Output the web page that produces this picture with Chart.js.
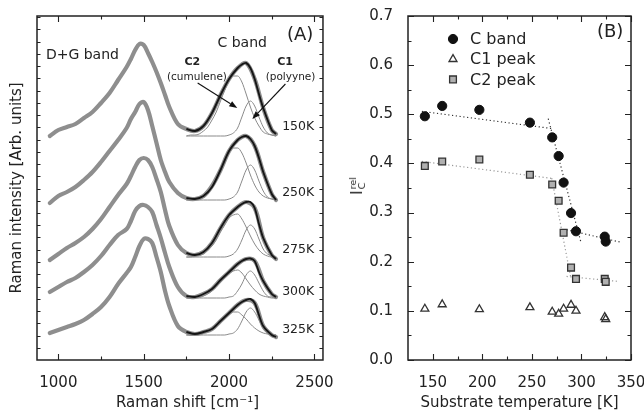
<!DOCTYPE html>
<html><head><meta charset="utf-8">
<script src="https://cdn.jsdelivr.net/npm/chart.js@4.4.1/dist/chart.umd.min.js"></script>
<style>
html,body{margin:0;padding:0;background:#fff;overflow:hidden;width:644px;height:415px;}
#wrap{position:relative;width:644px;height:415px;overflow:hidden;background:#fff;}
#ca{position:absolute;left:0;top:0;}
#cb{position:absolute;left:330px;top:0;}
#ybt{position:absolute;left:357px;top:186px;width:0;height:0;}
#ybt .in{position:absolute;left:0;top:0;transform:translate(-50%,-50%) rotate(-90deg);font-family:'DejaVu Sans';color:#222;white-space:nowrap;display:flex;align-items:center;}
#ybt .I{font-size:15px;line-height:15px;}
#ybt .col{display:inline-flex;flex-direction:column;font-size:9.5px;line-height:9px;margin-left:1px;}
</style></head>
<body><div id="wrap">
<canvas id="ca" width="340" height="415"></canvas>
<canvas id="cb" width="330" height="415"></canvas>
<div id="ybt"><div class="in"><span class="I">I</span><span class="col"><span>rel</span><span>C</span></span></div></div>
</div>
<script>
// ================= Panel A : Raman spectra =================
const ramanShift = [950,1000,1050,1100,1150,1200,1250,1300,1350,1400,1425,1450,1475,1500,1525,1550,1575,1600,1625,1650,1700,1750,1800,1850,1900,1950,2000,2050,2100,2150,2200,2250,2275];
const spec150K = [224,230,233,236,242,248,257,267,280,293,301,310,316,315,307,298,288,277,265,253,236,231,229,234,247,265,281,292,297,281,252,230,226];
const spec250K = [157,164,168,173,180,188,198,209,220,232,241,248,256,258,250,234,217,200,188,178,167,162,161,164,174,190,209,220,224,214,188,166,160];
const spec275K = [100,106,112,117,123,131,141,153,165,176,184,193,200,202,200,193,181,168,150,134,115,107,105,108,117,132,145,153,158,152,122,105,101];
const spec300K = [68,73,78,82,88,95,104,115,125,131,139,149,154,155,153,148,135,122,107,93,73,64,63,66,71,80,88,96,101,99,79,66,63];
const spec325K = [27,30,33,36,40,46,53,63,76,87,93,103,114,121,121,117,103,88,69,54,34,28,26,28,31,39,47,55,60,57,34,25,23];

const fitShift = [1750,1800,1850,1900,1950,2000,2050,2075,2100,2125,2150,2175,2200,2250,2275];
const fit150K = [231,229,234,247,265,281,292,295.5,297,292,281,266,252,230,226];
const fit250K = [162,161,164,173,190,209,220,223,224,221,214,202,188,166,160];
const fit275K = [107,105,108,117,132,145,153,156,158,158,152,136,122,105,101];
const fit300K = [64,63,66,71,80,88,96,99,101,101.5,99,88,79,66,63];
const fit325K = [28,26,28,31,39,47,55,58,60,61,57,45,34,25,23];

const compShift = [1750,1775,1800,1825,1850,1875,1900,1925,1950,1975,2000,2025,2050,2075,2100,2125,2150,2175,2200,2225,2250,2275];
const c2_150K = [224,225,225,226,229,233,240,248,259,270,279,284,284,278,266,253,242,234,228,226,225,224];
const c1_150K = [224,224,224,224,224,224,224,224,224,224,225,227,232,243,254,259,254,243,233,227,225,224];
const c2_250K = [160,161,161,162,164,168,174,181,190,200,208,212,212,207,197,185,175,168,164,162,161,160];
const c1_250K = [160,160,160,160,160,160,160,160,160,160,161,163,168,179,190,195,190,179,169,163,161,160];
const c2_275K = [103,103,104,105,106,110,114,120,128,135,142,145,146,141,133,124,116,110,106,104,103,103];
const c1_275K = [103,103,103,103,103,103,103,103,103,103,104,106,111,120,130,135,131,121,111,106,104,103];
const c2_300K = [62,62,63,63,64,66,69,73,78,83,87,89,90,87,81,75,70,66,64,63,62,62];
const c1_300K = [62,62,62,62,62,62,62,62,62,62,63,64,69,76,85,89,85,77,69,64,63,62];
const c2_325K = [25,25,26,26,27,29,31,34,38,42,46,48,48,45,41,36,32,29,27,26,25,25];
const c1_325K = [25,25,25,25,25,25,25,25,25,25,26,27,31,39,48,52,48,40,32,27,26,25];

const aXTickLabels = [1000,1500,2000,2500];
const aXMinorTicks = [1250,1750,2250];

// ================= Panel B : relative intensities =================
const substrateT = [142,159.5,197,248,270.5,277,282,289.5,294.5,323.5,324.5];
const relCband = [0.496,0.517,0.509,0.483,0.453,0.415,0.361,0.299,0.262,0.251,0.241];
const relC1 = [0.104,0.113,0.103,0.107,0.098,0.094,0.104,0.112,0.100,0.087,0.083];
const relC2 = [0.395,0.404,0.408,0.377,0.357,0.324,0.259,0.188,0.165,0.165,0.159];
// dotted guide lines [x0,y0,x1,y1]
const guideCband = [[139,0.506,270,0.471],[266.5,0.491,299.3,0.241],[285,0.265,339,0.240]];
const guideC2 = [[139,0.404,272,0.369],[270,0.370,289,0.170],[285,0.170,337,0.160]];
const bXTickLabels = [150,200,250,300,350];
const bXMinorTicks = [175,225,275,325];
const bYTickLabels = [0,0.1,0.2,0.3,0.4,0.5,0.6,0.7];
const bYMinorTicks = [0.05,0.15,0.25,0.35,0.45,0.55,0.65];

Chart.defaults.font.family = "'DejaVu Sans', sans-serif";
Chart.defaults.color = '#222';

const pts = (xs, ys) => xs.map((x,i)=>({x:x, y:ys[i]}));

function frameTicks(cfg){
  return {
    id:'frameTicks',
    afterDatasetsDraw(chart){
      const {ctx, chartArea:a, scales:{x,y}} = chart;
      ctx.save();
      ctx.strokeStyle = '#222';
      ctx.lineWidth = 1.1;
      ctx.beginPath();
      const vt = (v,len)=>{const p=Math.round(x.getPixelForValue(v))+0.5; ctx.moveTo(p,a.bottom); ctx.lineTo(p,a.bottom-len); ctx.moveTo(p,a.top); ctx.lineTo(p,a.top+len);};
      const ht = (v,len)=>{const p=Math.round(y.getPixelForValue(v))+0.5; ctx.moveTo(a.left,p); ctx.lineTo(a.left+len,p); ctx.moveTo(a.right,p); ctx.lineTo(a.right-len,p);};
      cfg.xMajor.forEach(v=>vt(v,cfg.major));
      cfg.xMinor.forEach(v=>vt(v,cfg.minor));
      cfg.yMajor.forEach(v=>ht(v,cfg.major));
      cfg.yMinor.forEach(v=>ht(v,cfg.minor));
      ctx.stroke();
      ctx.lineWidth = 1.5;
      ctx.strokeRect(a.left, a.top, a.right-a.left, a.bottom-a.top);
      ctx.restore();
    }
  };
}

// ---------- Chart A ----------
const specList = [spec150K,spec250K,spec275K,spec300K,spec325K];
const fitList = [fit150K,fit250K,fit275K,fit300K,fit325K];
const c2List = [c2_150K,c2_250K,c2_275K,c2_300K,c2_325K];
const c1List = [c1_150K,c1_250K,c1_275K,c1_300K,c1_325K];
const dsA = [];
specList.forEach(s=>dsA.push({data:pts(ramanShift,s), borderColor:'#8e8e8e', borderWidth:4.2, order:3, tension:0.35, borderCapStyle:'round', borderJoinStyle:'round'}));
c2List.forEach(s=>dsA.push({data:pts(compShift,s), borderColor:'#8a8a8a', borderWidth:1, order:2, cubicInterpolationMode:'monotone'}));
c1List.forEach(s=>dsA.push({data:pts(compShift,s), borderColor:'#8a8a8a', borderWidth:1, order:2, cubicInterpolationMode:'monotone'}));
fitList.forEach(s=>dsA.push({data:pts(fitShift,s), borderColor:'#161616', borderWidth:1.9, order:1, tension:0.3}));

const aYMinorTicks = [];
for (let k=1;k<=28;k++) aYMinorTicks.push(k*12.25);

const annA = [
  {t:'D+G band', x:927, y:305, size:14, align:'left'},
  {t:'C band', x:2077, y:317, size:14, align:'center'},
  {t:'C2', x:1785, y:298, size:11, bold:true, align:'center'},
  {t:'(cumulene)', x:1812, y:283, size:10.5, align:'center'},
  {t:'C1', x:2328, y:298, size:11, bold:true, align:'center'},
  {t:'(polyyne)', x:2360, y:283, size:10.5, align:'center'},
  {t:'150K', x:2311, y:233, size:12.5, align:'left'},
  {t:'250K', x:2311, y:167, size:12.5, align:'left'},
  {t:'275K', x:2311, y:110, size:12.5, align:'left'},
  {t:'300K', x:2311, y:68, size:12.5, align:'left'},
  {t:'325K', x:2311, y:30, size:12.5, align:'left'}
];
const arrowsA = [[1816,277,2048,252],[2330,276,2136,241]];

const annPluginA = {
  id:'annA',
  afterDatasetsDraw(chart){
    const {ctx, chartArea:a, scales:{x,y}} = chart;
    ctx.save();
    ctx.fillStyle = '#222';
    ctx.textBaseline = 'middle';
    annA.forEach(o=>{
      ctx.font = (o.bold?'bold ':'') + o.size + "px 'DejaVu Sans'";
      ctx.textAlign = o.align;
      ctx.fillText(o.t, x.getPixelForValue(o.x), y.getPixelForValue(o.y));
    });
    ctx.font = "18px 'DejaVu Sans'";
    ctx.textAlign = 'left';
    ctx.fillText('(A)', a.right-36, a.top+19);
    ctx.strokeStyle = '#111'; ctx.fillStyle = '#111'; ctx.lineWidth = 1.1;
    arrowsA.forEach(([x0,y0,x1,y1])=>{
      const px0=x.getPixelForValue(x0), py0=y.getPixelForValue(y0), px1=x.getPixelForValue(x1), py1=y.getPixelForValue(y1);
      const ang = Math.atan2(py1-py0, px1-px0), L=8, W=3;
      const bx = px1 - L*Math.cos(ang), by = py1 - L*Math.sin(ang);
      ctx.beginPath(); ctx.moveTo(px0,py0); ctx.lineTo(bx,by); ctx.stroke();
      ctx.beginPath(); ctx.moveTo(px1,py1);
      ctx.lineTo(bx + W*Math.sin(ang), by - W*Math.cos(ang));
      ctx.lineTo(bx - W*Math.sin(ang), by + W*Math.cos(ang));
      ctx.closePath(); ctx.fill();
    });
    ctx.restore();
  }
};

new Chart(document.getElementById('ca'), {
  type:'line',
  data:{datasets:dsA},
  options:{
    responsive:false, animation:false, devicePixelRatio:1,
    layout:{padding:{top:16,right:16,left:0,bottom:0}},
    plugins:{legend:{display:false}, tooltip:{enabled:false}},
    elements:{point:{radius:0}, line:{fill:false}},
    scales:{
      x:{type:'linear', min:875, max:2550, grid:{display:false}, border:{display:false},
         afterBuildTicks:s=>{s.ticks = aXTickLabels.map(v=>({value:v}));},
         ticks:{font:{size:15}, color:'#222', padding:6, maxRotation:0, autoSkip:false, callback:v=>String(v)},
         title:{display:true, text:'\u2003Raman shift [cm\u207B\u00B9]', font:{size:15}, color:'#222', padding:{top:0,bottom:3}},
         afterFit:s=>{s.height=55;}},
      y:{type:'linear', min:0, max:344, grid:{display:false}, border:{display:false}, ticks:{display:false},
         title:{display:true, text:'Raman intensity [Arb. units]', font:{size:15}, color:'#222', padding:{top:8,bottom:0}},
         afterFit:s=>{s.width=37;}}
    }
  },
  plugins:[frameTicks({xMajor:aXTickLabels, xMinor:aXMinorTicks, yMajor:[], yMinor:aYMinorTicks, major:6, minor:3.5}), annPluginA]
});

// ---------- Chart B ----------
const dsB = [];
guideCband.forEach(([x0,y0,x1,y1])=>dsB.push({type:'line', data:[{x:x0,y:y0},{x:x1,y:y1}], borderColor:'#333', borderWidth:1.2, borderDash:[1.2,2.6], pointRadius:0, order:5}));
guideC2.forEach(([x0,y0,x1,y1])=>dsB.push({type:'line', data:[{x:x0,y:y0},{x:x1,y:y1}], borderColor:'#999', borderWidth:1.2, borderDash:[1.2,2.6], pointRadius:0, order:5}));
const styleCband = {pointStyle:'circle', pointRadius:4.6, backgroundColor:'#111', borderColor:'#111', borderWidth:1};
const styleC1 = {pointStyle:'triangle', pointRadius:4.6, backgroundColor:'rgba(255,255,255,0)', borderColor:'#333', borderWidth:1.3};
const styleC2 = {pointStyle:'rect', pointRadius:4.8, backgroundColor:'#b0b0b0', borderColor:'#333', borderWidth:1.3};
dsB.push(Object.assign({type:'scatter', label:'C band', data:pts(substrateT,relCband), order:1}, styleCband));
dsB.push(Object.assign({type:'scatter', label:'C1 peak', data:pts(substrateT,relC1), order:2}, styleC1));
dsB.push(Object.assign({type:'scatter', label:'C2 peak', data:pts(substrateT,relC2), order:2}, styleC2));

const legendB = [['C band',styleCband],['C1 peak',styleC1],['C2 peak',styleC2]];
const legPluginB = {
  id:'legB',
  afterDatasetsDraw(chart){
    const {ctx, chartArea:a} = chart;
    ctx.save();
    legendB.forEach(([t,st],i)=>{
      const cx = a.left+45, cy = a.top+23+i*20.2;
      const o = {pointStyle:st.pointStyle, radius:st.pointRadius, rotation:0, borderWidth:st.borderWidth};
      ctx.fillStyle = st.backgroundColor; ctx.strokeStyle = st.borderColor; ctx.lineWidth = st.borderWidth;
      Chart.helpers.drawPoint(ctx, o, cx, cy);
      ctx.fillStyle = '#222'; ctx.font = "16px 'DejaVu Sans'"; ctx.textAlign='left'; ctx.textBaseline='middle';
      ctx.fillText(t, a.left+62, cy+1);
    });
    ctx.font = "18px 'DejaVu Sans'"; ctx.fillStyle='#222'; ctx.textBaseline='middle';
    ctx.fillText('(B)', a.left+189, a.top+16);
    ctx.restore();
  }
};

new Chart(document.getElementById('cb'), {
  type:'scatter',
  data:{datasets:dsB},
  options:{
    responsive:false, animation:false, devicePixelRatio:1,
    layout:{padding:{top:16,right:29,left:0,bottom:0}},
    plugins:{legend:{display:false}, tooltip:{enabled:false}},
    scales:{
      x:{type:'linear', min:125, max:350, grid:{display:false}, border:{display:false},
         afterBuildTicks:s=>{s.ticks = bXTickLabels.map(v=>({value:v}));},
         ticks:{font:{size:15}, color:'#222', padding:6, maxRotation:0, autoSkip:false, callback:v=>String(v)},
         title:{display:true, text:'Substrate temperature [K]', font:{size:15}, color:'#222', padding:{top:0,bottom:3}},
         afterFit:s=>{s.height=55;}},
      y:{type:'linear', min:0, max:0.7, grid:{display:false}, border:{display:false},
         afterBuildTicks:s=>{s.ticks = bYTickLabels.map(v=>({value:v}));},
         ticks:{font:{size:15}, color:'#222', padding:7, autoSkip:false, callback:v=>v.toFixed(1)},
         afterFit:s=>{s.width=78;}}
    }
  },
  plugins:[frameTicks({xMajor:bXTickLabels, xMinor:bXMinorTicks, yMajor:bYTickLabels, yMinor:bYMinorTicks, major:6, minor:3.5}), legPluginB]
});
</script>
</body></html>
